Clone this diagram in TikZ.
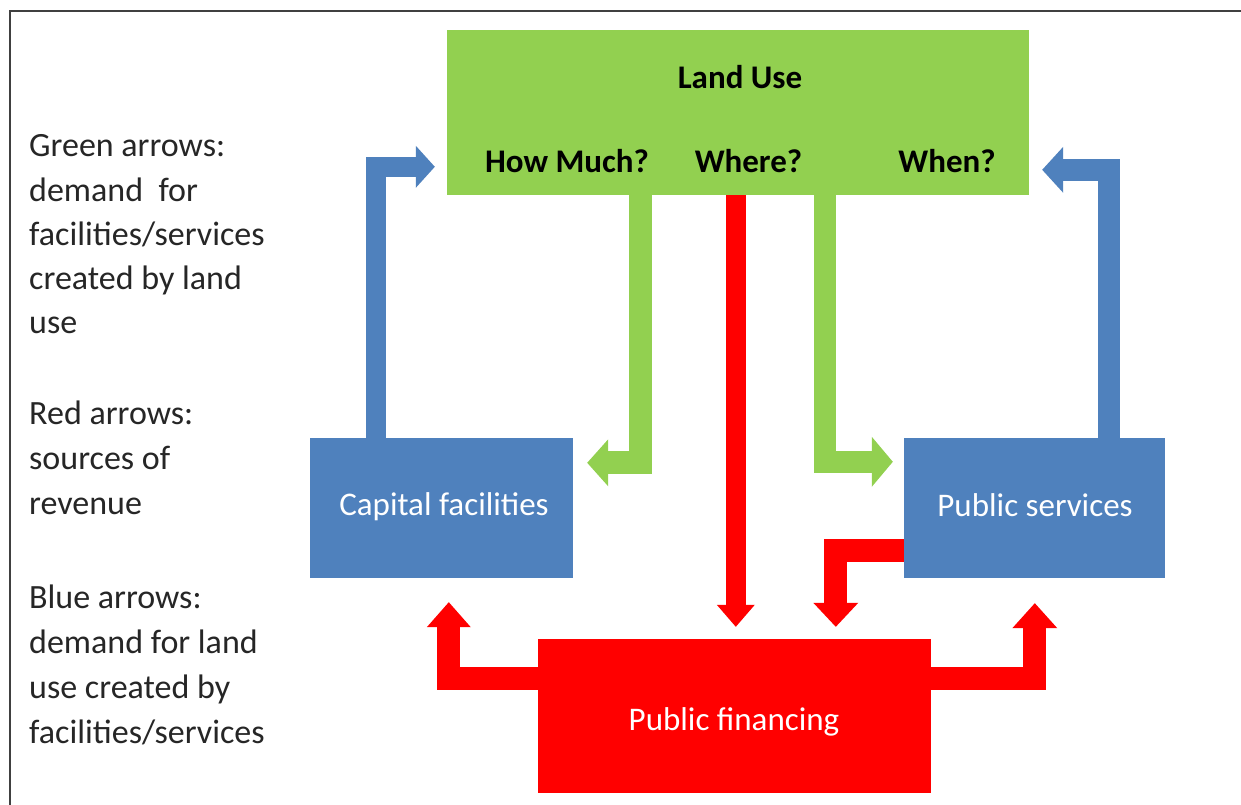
\documentclass[tikz,border=0pt]{standalone}
\usepackage{fontspec}
\setmainfont{Carlito}
\usetikzlibrary{arrows.meta,calc}
\definecolor{lugreen}{HTML}{92D050}
\definecolor{boxblue}{HTML}{4F81BD}
\definecolor{finred}{HTML}{FF0000}
\definecolor{framegray}{HTML}{404040}
\begin{document}
\begin{tikzpicture}[x=1pt,y=-1pt,
  box/.style={rectangle, inner sep=0pt, draw=none},
  blbl/.style={inner sep=0pt, font=\fontsize{33}{40}\selectfont\bfseries, text=black},
  wlbl/.style={inner sep=0pt, font=\fontsize{33}{40}\selectfont, text=white},
  legend/.style={inner sep=0pt, anchor=base west, font=\fontsize{34}{40}\selectfont, text=black!85},
  bigarrow/.style={line join=miter, line cap=butt},
  bluearrow/.style={bigarrow, draw=boxblue, line width=#1},
  greenarrow/.style={bigarrow, draw=lugreen, line width=#1},
  redarrow/.style={bigarrow, draw=finred, line width=#1},
]
\useasboundingbox (0,0) rectangle (1241,805);
\fill[white] (0,0) rectangle (1241,805);
\draw[framegray, line width=1.6pt] (10,805) -- (10,11) -- (1241,11);

% boxes
\node[box, fill=lugreen, minimum width=582pt, minimum height=165pt] (land) at (738,112.5) {};
\node[box, fill=boxblue, minimum width=263pt, minimum height=140pt] (cap) at (441.5,508) {};
\node[box, fill=boxblue, minimum width=261pt, minimum height=140pt] (pserv) at (1034.5,508) {};
\node[box, fill=finred, minimum width=393pt, minimum height=154pt] (fin) at (734.5,716) {};

% texts in boxes
\node[blbl, anchor=base] (lutext) at (740,89) {Land Use};
\node[blbl, anchor=base] (howmuch) at (567,172) {How Much?};
\node[blbl, anchor=base] (where) at (748.5,172) {Where?};
\node[blbl, anchor=base] (when) at (947,172) {When?};
\node[wlbl, anchor=base] (captext) at (444,515) {Capital facilities};
\node[wlbl, anchor=base] (pstext) at (1035,516) {Public services};
\node[wlbl, anchor=base] (fintext) at (734,730) {Public financing};

% blue arrows
\draw[bluearrow=20pt, -{Triangle[width=42pt 0 0, length=19pt 0 0, line width=0pt]}]
  ($(cap.north west)+(66,0)$) |- ($(land.north west)+(-12,137)$);
\draw[bluearrow=22pt, -{Triangle[width=46pt 0 0, length=21pt 0 0, line width=0pt]}]
  ($(pserv.north west)+(205,0)$) |- ($(land.north east)+(13,140)$);

% green arrows
\draw[greenarrow=23pt, -{Triangle[width=47pt 0 0, length=21pt 0 0, line width=0pt]}]
  ($(land.south west)+(194,0)$) |- ($(cap.north east)+(14,25)$);
\draw[greenarrow=22pt, -{Triangle[width=50pt 0 0, length=21pt 0 0, line width=0pt]}]
  ($(land.south west)+(378,0)$) |- ($(pserv.north west)+(-11,24)$);

% red arrows
\draw[redarrow=20pt, -{Triangle[width=38pt 0 0, length=22pt 0 0, line width=0pt]}]
  ($(land.south west)+(289,0)$) -- ($(fin.north west)+(198,-12)$);
\draw[redarrow=23pt, -{Triangle[width=45pt 0 0, length=24pt 0 0, line width=0pt]}]
  ($(pserv.north west)+(0,113)$) -| ($(fin.north west)+(298,-12)$);
\draw[redarrow=23pt, -{Triangle[width=44pt 0 0, length=25pt 0 0, line width=0pt]}]
  ($(fin.north west)+(0,40)$) -| ($(cap.south west)+(139,24)$);
\draw[redarrow=23pt, -{Triangle[width=45pt 0 0, length=25pt 0 0, line width=0pt]}]
  ($(fin.north east)+(0,40)$) -| ($(pserv.south west)+(131,25)$);

% legend
\node[legend] (g1) at (29,157) {Green arrows:};
\node[legend] (g2) at (29,201) {demand\ \ for};
\node[legend] (g3) at (29,245) {facilities/services};
\node[legend] (g4) at (29,289) {created by land};
\node[legend] (g5) at (29,333) {use};
\node[legend] (r1) at (29,424) {Red arrows:};
\node[legend] (r2) at (29,469) {sources of};
\node[legend] (r3) at (29,514) {revenue};
\node[legend] (b1) at (29,608) {Blue arrows:};
\node[legend] (b2) at (29,653) {demand for land};
\node[legend] (b3) at (29,698) {use created by};
\node[legend] (b4) at (29,743) {facilities/services};
\end{tikzpicture}
\end{document}
